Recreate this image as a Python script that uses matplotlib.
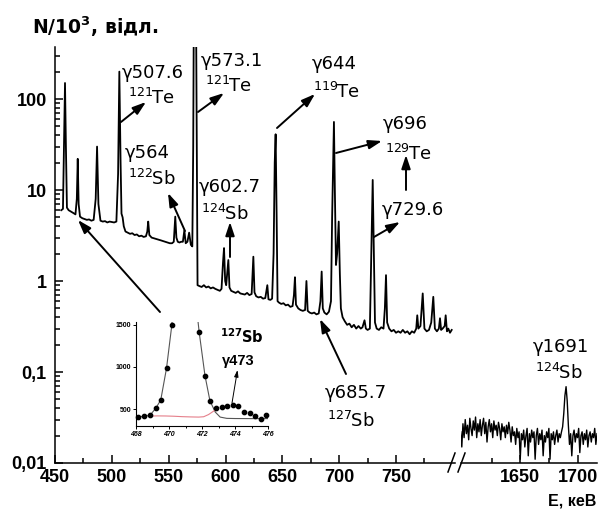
import matplotlib
matplotlib.use('Agg')
import numpy as np
import matplotlib.pyplot as plt
from matplotlib.lines import Line2D
from matplotlib.ticker import LogLocator, NullFormatter

plt.rcParams['font.family'] = ['Liberation Sans', 'DejaVu Sans']
plt.rcParams['mathtext.fontset'] = 'custom'
plt.rcParams['mathtext.rm'] = 'DejaVu Sans'
plt.rcParams['mathtext.bf'] = 'DejaVu Sans:bold'
plt.rcParams['mathtext.it'] = 'DejaVu Sans:italic'

# спектр 450-800 кеВ (вершини ломаної: фон + піки)
e_low = [455.5, 457.0, 458.0, 458.8, 459.6, 460.5, 462, 464, 466, 468,
         469.2, 470.0, 470.8, 472, 474, 476, 478, 480, 482, 484,
         485.8, 487.0, 488.2, 490, 492, 494, 496, 498, 500, 502, 504,
         505.5, 506.6, 507.7, 508.5, 509.5, 510.5, 512, 514, 516, 518, 520,
         522, 524, 526, 528, 530, 531.2, 532.0, 533, 535, 537, 539, 541,
         543, 545, 547, 549, 551, 553, 554.5, 555.8, 556.8, 558, 559.5,
         561, 562.5, 563.8, 565.0, 566.5, 568.0, 569.5, 570.8, 571.6,
         572.2, 574.0, 574.8, 575.4, 577, 579, 581, 583, 585, 587, 589,
         591, 593, 595, 596.5, 597.8, 598.7, 599.7, 600.6, 601.5, 602.5,
         603.5, 605, 607, 609, 611, 613, 615, 617, 619, 621, 623, 624.5,
         625.5, 627, 629, 631, 633, 635, 636.8, 637.8, 639.5, 641.0,
         642.3, 643.3, 644.1, 645.0, 645.8, 647, 649, 651, 653, 655, 657,
         659, 660.2, 661.1, 662.0, 664, 666, 668, 670, 671.2, 672.3, 674,
         676, 678, 680, 682, 683.5, 684.6, 685.6, 687, 689, 691, 692.8,
         693.8, 695.4, 696.2, 697.2, 698.2, 699.6, 700.6, 701.5, 703, 705,
         707, 709, 711, 713, 715, 717, 719, 720.5, 722.3, 723.5, 725, 727,
         728.5, 729.5, 730.5, 731.5, 733, 735, 737, 739, 740.2, 741.2,
         742.2, 744, 746, 748, 750, 752, 754, 756, 758, 760, 762, 764,
         766, 767.8, 768.7, 769.7, 771.5, 773.5, 775.0, 777, 779, 781,
         782.8, 784.2, 786, 787.7, 788.7, 789.7, 791, 792.8, 793.7, 794.8,
         796, 797.5, 799]
n_low = [6.0, 6.2, 40, 150, 30, 6.4, 6.0, 5.8, 5.6, 5.4,
         8, 22, 7, 5.1, 4.9, 4.8, 4.7, 4.75, 4.6, 4.7,
         8, 30, 7, 4.6, 4.5, 4.55, 4.4, 4.5, 4.45, 4.4, 4.5,
         15, 200, 20, 5.5, 5.0, 4.0, 3.5, 3.4, 3.3, 3.35, 3.2,
         3.25, 3.1, 3.15, 3.05, 3.1, 3.5, 4.5, 3.2, 3.0, 2.95, 2.9, 2.85,
         2.8, 2.75, 2.7, 2.65, 2.6, 2.6, 2.7, 5.1, 3.0, 2.7, 2.65,
         2.7, 2.7, 3.6, 2.6, 2.7, 3.4, 2.5, 2.4, 30,
         1500, 1500, 20, 0.9, 0.88, 0.86, 0.9, 0.85, 0.87, 0.83, 0.85,
         0.82, 0.8, 0.78, 0.82, 1.6, 2.3, 1.0, 0.9, 1.2, 1.7,
         0.85, 0.78, 0.76, 0.74, 0.77, 0.73, 0.72, 0.71, 0.74, 0.7, 0.72, 1.85,
         0.75, 0.68, 0.66, 0.67, 0.64, 0.65, 0.9, 0.63, 0.62, 0.64,
         2, 20, 41, 5, 0.6, 0.58, 0.56, 0.57, 0.54, 0.55, 0.52,
         0.53, 0.7, 1.1, 0.55, 0.5, 0.48, 0.47, 0.48, 1.0, 0.47, 0.45,
         0.44, 0.45, 0.43, 0.44, 0.6, 1.27, 0.5, 0.45, 0.43, 0.46, 0.6,
         5, 56, 10, 1.5, 2, 4.5, 1.2, 0.5, 0.4, 0.36,
         0.33, 0.34, 0.31, 0.33, 0.3, 0.32, 0.3, 0.31, 0.37, 0.3, 0.29, 0.3,
         3, 12.9, 2, 0.35, 0.3, 0.29, 0.31, 0.3, 0.5, 1.16,
         0.35, 0.3, 0.28, 0.29, 0.27, 0.28, 0.27, 0.29, 0.27, 0.28, 0.26, 0.28,
         0.27, 0.3, 0.42, 0.3, 0.32, 0.73, 0.3, 0.28, 0.29, 0.35,
         0.67, 0.3, 0.28, 0.3, 0.39, 0.29, 0.3, 0.32, 0.42, 0.28,
         0.3, 0.27, 0.29]

# спектр 1598-1717 кеВ, крок 1 кеВ
n_high = [0.022, 0.015, 0.027, 0.019, 0.030, 0.021, 0.026, 0.018, 0.031, 0.024,
          0.020, 0.029, 0.023, 0.032, 0.019, 0.027, 0.022, 0.030, 0.020, 0.026,
          0.031, 0.021, 0.028, 0.017, 0.025, 0.030, 0.022, 0.027, 0.019, 0.029,
          0.023, 0.026, 0.020, 0.028, 0.024, 0.018, 0.027, 0.022, 0.025, 0.019,
          0.026, 0.021, 0.028, 0.023, 0.017, 0.025, 0.020, 0.022, 0.016, 0.024,
          0.019, 0.022, 0.011, 0.021, 0.018, 0.023, 0.015, 0.020, 0.024, 0.012,
          0.021, 0.017, 0.023, 0.019, 0.022, 0.011, 0.020, 0.024, 0.016, 0.021,
          0.018, 0.023, 0.012, 0.020, 0.017, 0.022, 0.019, 0.024, 0.011, 0.021,
          0.018, 0.022, 0.016, 0.020, 0.023, 0.017, 0.021, 0.019, 0.022, 0.025,
          0.035, 0.055, 0.069, 0.048, 0.026, 0.016, 0.021, 0.012, 0.020, 0.023,
          0.017, 0.021, 0.019, 0.024, 0.013, 0.020, 0.022, 0.016, 0.021, 0.018,
          0.023, 0.015, 0.020, 0.022, 0.017, 0.021, 0.019, 0.024, 0.016, 0.021]
e_high = np.linspace(1598, 1717, len(n_high))

# вставка: 468-476 кеВ
pts_x = [468.14, 468.49, 468.85, 469.2, 469.5, 469.85, 470.17, 471.83, 472.18, 472.48,
         472.86, 473.2, 473.5, 473.85, 474.17, 474.53, 474.88, 475.2, 475.55, 475.9]
pts_y = [411, 420, 431, 515, 611, 986, 1492, 1408, 899, 603,
         515, 526, 538, 554, 538, 469, 462, 420, 382, 431]
fit_x = [468.14, 468.49, 468.85, 469.2, 469.5, 469.85, 470.17, 470.5, 470.85, 471.2,
         471.5, 471.83, 472.18, 472.48, 472.8, 473.1, 473.5, 474.0, 475.0, 476.0]
fit_y = [411, 420, 431, 515, 611, 986, 1492, 2300, 2800, 2600,
         2000, 1408, 899, 603, 470, 410, 395, 393, 392, 392]
bg_x = [468.85, 469.3, 469.8, 470.3, 470.8, 471.3, 471.8, 472.1, 472.4, 472.7, 472.95]
bg_y = [422, 424, 423, 420, 415, 412, 410, 414, 440, 480, 515]

W, H = 601, 512


def P(x, y):
    # піксельні координати (зверху зліва) -> частки фігури
    return (x / W, 1 - y / H)


fig = plt.figure(figsize=(W / 100, H / 100), dpi=100)
ax1 = fig.add_axes([55 / W, 1 - 463 / H, 400 / W, 416 / H])
ax2 = fig.add_axes([461 / W, 1 - 463 / H, 136 / W, 416 / H], sharey=ax1)

ax1.plot(e_low, n_low, color='k', lw=1.3)
ax2.plot(e_high, n_high, color='k', lw=1.0)

ax1.set_yscale('log')
ax1.set_ylim(0.01, 373)
ax1.set_xlim(450, 801.9)
ax2.set_xlim(1598.3, 1717)

for ax in (ax1, ax2):
    ax.spines['top'].set_visible(False)
    ax.spines['right'].set_visible(False)
    ax.spines['left'].set_linewidth(1.1)
    ax.spines['bottom'].set_linewidth(1.1)
    ax.tick_params(which='both', direction='in', width=1.1, labelsize=13, pad=4)
    ax.tick_params(which='major', length=6)
    ax.tick_params(which='minor', length=3.5)
ax2.spines['left'].set_visible(False)

ax1.set_xticks([450, 500, 550, 600, 650, 700, 750])
ax1.set_xticklabels(['450', '500', '550', '600', '650', '700', '750'], fontweight='bold')
ax1.set_xticks([475, 525, 575, 625, 675, 725, 775], minor=True)
ax2.set_xticks([1650, 1700])
ax2.set_xticklabels(['1650', '1700'], fontweight='bold')
ax2.set_xticks([1625, 1675], minor=True)

ax1.set_yticks([0.01, 0.1, 1, 10, 100])
ax1.set_yticklabels(['0,01', '0,1', '1', '10', '100'], fontweight='bold')
ax1.yaxis.set_minor_locator(LogLocator(base=10, subs=range(2, 10)))
ax1.yaxis.set_minor_formatter(NullFormatter())
ax1.tick_params(axis='y', pad=6)
ax2.tick_params(axis='y', which='both', left=False, labelleft=False)

# розрив осі
for x0 in (448, 458):
    fig.add_artist(Line2D([x0 / W, (x0 + 7) / W], [1 - 472 / H, 1 - 453 / H],
                          transform=fig.transFigure, color='k', lw=1.1))

# підписи осей
fig.text(*P(32, 34), 'N/10$^{\\mathbf{3}}$, відл.', fontsize=13.5, fontweight='bold',
         family='DejaVu Sans', ha='left', va='baseline')
fig.text(*P(596, 505), 'Е, кеВ', fontsize=11.5, fontweight='bold', ha='right', va='baseline')


def iso(a, el, style='mathrm'):
    return '$^{\\%s{%s}}\\hspace{-0.06}\\%s{%s}$' % (style, a, style, el)


labels = [
    (122, 78, 'γ507.6'), (128, 104, iso(121, 'Te')),
    (201, 66, 'γ573.1'), (205, 92, iso(121, 'Te')),
    (125, 158, 'γ564'), (128, 185, iso(122, 'Sb')),
    (199, 192, 'γ602.7'), (201, 220, iso(124, 'Sb')),
    (312, 69, 'γ644'), (313, 98, iso(119, 'Te')),
    (383, 129, 'γ696'), (385, 160, iso(129, 'Te')),
    (382, 215, 'γ729.6'),
    (325, 398, 'γ685.7'), (327, 427, iso(127, 'Sb')),
    (533, 352, 'γ1691'), (535, 379, iso(124, 'Sb')),
]
for x, y, s in labels:
    fig.text(*P(x, y), s, fontsize=13, family='DejaVu Sans', ha='left', va='baseline')

arrows = [
    ((121, 122), (146, 102)),
    ((198, 112), (224, 93)),
    ((185, 231), (168, 193)),
    ((230, 257), (230, 222)),
    ((277, 128), (315, 94)),
    ((336, 153), (382, 141)),
    ((406, 190), (406, 155)),
    ((374, 237), (400, 222)),
    ((346, 374), (320, 319)),
    ((160, 312), (78, 220)),
]
for tail, head in arrows:
    ax1.annotate('', xy=P(*head), xytext=P(*tail), xycoords='figure fraction',
                 textcoords='figure fraction', annotation_clip=False,
                 arrowprops=dict(arrowstyle='-|>,head_length=0.9,head_width=0.3',
                                 mutation_scale=9, color='k', lw=1.4,
                                 shrinkA=0, shrinkB=0))

# вставка
axin = fig.add_axes([136 / W, 1 - 426 / H, 132 / W, 104 / H])
axin.set_facecolor('none')
axin.plot(fit_x, fit_y, color='#555555', lw=0.8)
axin.plot(bg_x, bg_y, color='#e57f8a', lw=0.8)
axin.plot(pts_x, pts_y, 'o', color='k', ms=3.1, clip_on=False)
axin.set_xlim(468, 476)
axin.set_ylim(305, 1530)
axin.spines['top'].set_visible(False)
axin.spines['right'].set_visible(False)
axin.set_xticks([468, 470, 472, 474, 476])
axin.set_xticklabels(['468', '470', '472', '474', '476'], fontweight='bold', fontstyle='italic')
axin.set_xticks([469, 471, 473, 475], minor=True)
axin.set_yticks([500, 1000, 1500])
axin.set_yticklabels(['500', '1000', '1500'], fontweight='bold')
axin.tick_params(which='both', direction='out', labelsize=5, pad=1.5, width=0.7)
axin.tick_params(which='major', length=2)
axin.tick_params(which='minor', length=1.2)
for s in ('left', 'bottom'):
    axin.spines[s].set_linewidth(0.8)

fig.text(*P(220, 343), iso(127, 'Sb', 'mathbf'), fontsize=10.5,
         ha='left', va='baseline')
fig.text(*P(222, 365), 'γ473', fontsize=10.5, fontweight='bold', ha='left', va='baseline')
axin.annotate('', xy=P(237.5, 370), xytext=P(232, 403), xycoords='figure fraction',
              textcoords='figure fraction', annotation_clip=False,
              arrowprops=dict(arrowstyle='-|>,head_length=0.8,head_width=0.25',
                              mutation_scale=5, color='k', lw=0.7,
                              shrinkA=0, shrinkB=0))

fig.savefig('out.png', dpi=100)
